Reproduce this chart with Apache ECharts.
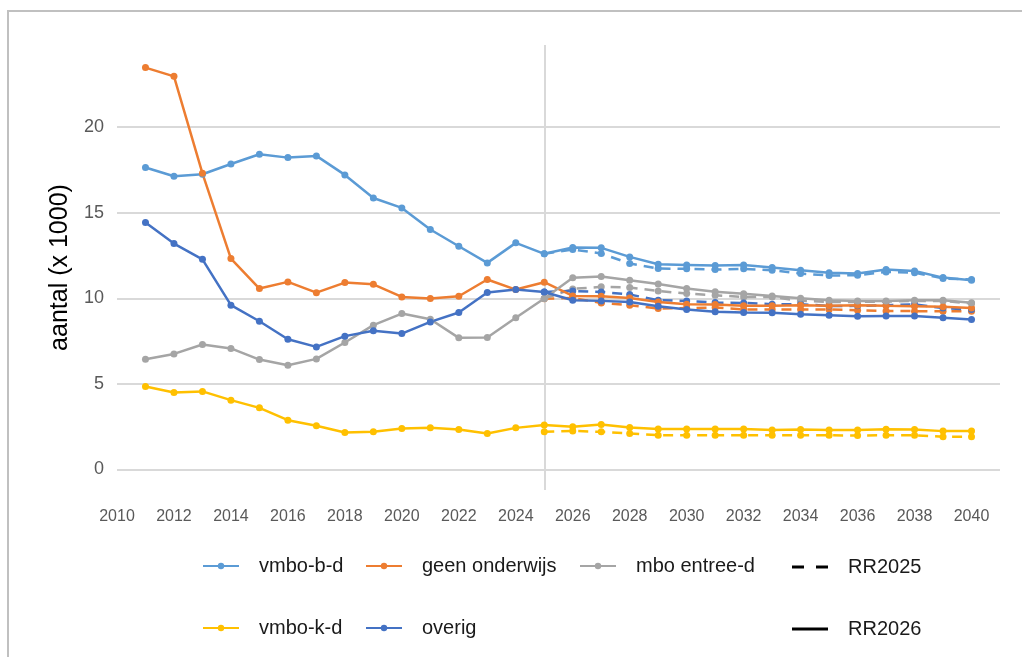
<!DOCTYPE html>
<html>
<head>
<meta charset="utf-8">
<script src="https://cdn.jsdelivr.net/npm/echarts@6/dist/echarts.min.js"></script>
<style>
  html, body { margin: 0; padding: 0; background: #fff; overflow: hidden; }
  #main { position: absolute; left: 0; top: 0; width: 1022px; height: 657px; }
  #frame { position: absolute; left: 7px; top: 10px; width: 1030px; height: 660px;
           border-left: 2px solid #c0c0c0; border-top: 2px solid #c0c0c0; pointer-events: none; }
</style>
</head>
<body>
<div id="main"></div>
<div id="frame"></div>
<script>
// jaren
var years26 = [2011, 2012, 2013, 2014, 2015, 2016, 2017, 2018, 2019, 2020,
               2021, 2022, 2023, 2024, 2025, 2026, 2027, 2028, 2029, 2030,
               2031, 2032, 2033, 2034, 2035, 2036, 2037, 2038, 2039, 2040];
var years25 = [2025, 2026, 2027, 2028, 2029, 2030, 2031, 2032,
               2033, 2034, 2035, 2036, 2037, 2038, 2039, 2040];
var xTicks = [2010, 2012, 2014, 2016, 2018, 2020, 2022, 2024, 2026, 2028, 2030, 2032, 2034, 2036, 2038, 2040];
var yTicks = [0, 5, 10, 15, 20];

// RR2026 (doorgetrokken)
var vmboBD26 = [17.64, 17.13, 17.25, 17.85, 18.42, 18.22, 18.32, 17.21, 15.86, 15.28,
                14.02, 13.04, 12.07, 13.24, 12.60, 12.97, 12.95, 12.42, 11.99, 11.95,
                11.91, 11.95, 11.80, 11.64, 11.50, 11.45, 11.68, 11.60, 11.21, 11.06];
var geen26   = [23.48, 22.97, 17.30, 12.32, 10.57, 10.96, 10.33, 10.92, 10.82, 10.08,
                 9.99, 10.12, 11.10, 10.51, 10.94, 10.14, 10.12, 10.02, 9.79, 9.65,
                 9.64, 9.56, 9.56, 9.60, 9.56, 9.60, 9.56, 9.54, 9.50, 9.44];
var mbo26    = [6.44, 6.75, 7.30, 7.07, 6.42, 6.09, 6.46, 7.42, 8.43, 9.11,
                8.78, 7.69, 7.71, 8.86, 9.99, 11.20, 11.27, 11.06, 10.84, 10.57,
                10.39, 10.26, 10.14, 10.00, 9.89, 9.84, 9.84, 9.89, 9.89, 9.74];
var vmboKD26 = [4.85, 4.50, 4.56, 4.05, 3.60, 2.88, 2.55, 2.16, 2.20, 2.39,
                2.43, 2.34, 2.10, 2.43, 2.60, 2.49, 2.63, 2.45, 2.37, 2.37,
                2.37, 2.37, 2.30, 2.34, 2.30, 2.30, 2.35, 2.34, 2.24, 2.24];
var overig26 = [14.43, 13.20, 12.28, 9.60, 8.66, 7.61, 7.16, 7.79, 8.10, 7.94,
                8.62, 9.17, 10.34, 10.51, 10.37, 9.89, 9.85, 9.79, 9.54, 9.35,
                9.21, 9.17, 9.15, 9.07, 9.01, 8.95, 8.97, 8.97, 8.86, 8.76];

// RR2025 (gestreept)
var vmboBD25 = [12.60, 12.85, 12.62, 12.03, 11.74, 11.72, 11.68, 11.72,
                11.64, 11.45, 11.33, 11.35, 11.54, 11.50, 11.16, 11.10];
var geen25   = [9.97, 10.02, 9.73, 9.60, 9.40, 9.43, 9.46, 9.35,
                9.35, 9.35, 9.35, 9.30, 9.26, 9.25, 9.25, 9.25];
var mbo25    = [9.99, 10.55, 10.67, 10.63, 10.43, 10.28, 10.18, 10.08,
                10.08, 9.85, 9.79, 9.79, 9.80, 9.85, 9.85, 9.70];
var vmboKD25 = [2.20, 2.25, 2.20, 2.10, 2.00, 2.00, 2.00, 2.00,
                2.00, 2.00, 2.00, 1.98, 2.00, 2.00, 1.91, 1.91];
var overig25 = [10.37, 10.43, 10.37, 10.22, 9.89, 9.85, 9.75, 9.73,
                9.66, 9.66, 9.55, 9.56, 9.60, 9.64, 9.43, 9.35];

var groups = [
    { name: 'vmbo-b-d', color: '#5B9BD5', rr26: vmboBD26, rr25: vmboBD25 },
    { name: 'geen onderwijs', color: '#ED7D31', rr26: geen26, rr25: geen25 },
    { name: 'mbo entree-d', color: '#A5A5A5', rr26: mbo26, rr25: mbo25 },
    { name: 'vmbo-k-d', color: '#FFC000', rr26: vmboKD26, rr25: vmboKD25 },
    { name: 'overig', color: '#4472C4', rr26: overig26, rr25: overig25 }
];

function zip(xs, ys) {
    return xs.map(function (x, i) { return [x, ys[i]]; });
}

var font = 'Liberation Sans, Arial, sans-serif';
var series = [];

// rasterlijnen en peiljaar-lijn
series.push({
    name: '_grid',
    type: 'line',
    data: [],
    silent: true,
    markLine: {
        z: 1,
        silent: true,
        symbol: 'none',
        label: { show: false },
        lineStyle: { color: '#d9d9d9', width: 2, type: 'solid' },
        data: yTicks.map(function (v) { return { yAxis: v }; })
            .concat([{ xAxis: 2025 }])
    }
});

groups.forEach(function (g) {
    series.push({
        name: g.name + ' RR2025',
        type: 'line',
        data: zip(years25, g.rr25),
        color: g.color,
        symbol: 'circle',
        symbolSize: 7,
        lineStyle: { width: 2.5, type: [10, 7] },
        z: 2
    });
});
groups.forEach(function (g) {
    series.push({
        name: g.name,
        type: 'line',
        data: zip(years26, g.rr26),
        color: g.color,
        symbol: 'circle',
        symbolSize: 7,
        lineStyle: { width: 2.5 },
        z: 3
    });
});
series.push({ name: 'RR2025', type: 'line', data: [], color: '#000', symbol: 'none' });
series.push({ name: 'RR2026', type: 'line', data: [], color: '#000', symbol: 'none' });

function legendCol(left, top, itemHeight, names) {
    return {
        orient: 'vertical',
        left: left,
        top: top,
        padding: 0,
        itemWidth: 36,
        itemHeight: itemHeight,
        itemGap: 42,
        selectedMode: false,
        textStyle: { fontFamily: font, fontSize: 20, color: '#1a1a1a', padding: [0, 0, 0, 15] },
        data: names
    };
}

var myChart = echarts.init(document.getElementById('main'));
myChart.setOption({
    animation: false,
    backgroundColor: '#fff',
    grid: { left: 117, right: 22, top: 45, bottom: 167 },
    legend: [
        legendCol(202, 556, 8, ['vmbo-b-d', 'vmbo-k-d']),
        legendCol(365, 556, 8, ['geen onderwijs', 'overig']),
        legendCol(579, 556, 8, ['mbo entree-d']),
        legendCol(792, 557, 3, [
            { name: 'RR2025', icon: 'path://M0,0h12v3h-12zM24,0h12v3h-12z' },
            { name: 'RR2026', icon: 'rect' }
        ])
    ],
    xAxis: {
        type: 'value',
        min: 2010,
        max: 2041,
        axisLine: { show: false },
        axisTick: { show: false },
        splitLine: { show: false },
        axisLabel: {
            customValues: xTicks,
            formatter: function (v) { return String(v); },
            color: '#595959',
            fontFamily: font,
            fontSize: 16,
            margin: 19
        }
    },
    yAxis: {
        type: 'value',
        min: -1.2,
        max: 24.8,
        name: 'aantal (x 1000)',
        nameLocation: 'middle',
        nameRotate: 90,
        nameGap: 42,
        nameTextStyle: { fontFamily: font, fontSize: 25, color: '#000' },
        axisLine: { show: false },
        axisTick: { show: false },
        splitLine: { show: false },
        axisLabel: {
            customValues: yTicks,
            color: '#595959',
            fontFamily: font,
            fontSize: 18,
            margin: 13
        }
    },
    series: series
});
</script>
</body>
</html>
